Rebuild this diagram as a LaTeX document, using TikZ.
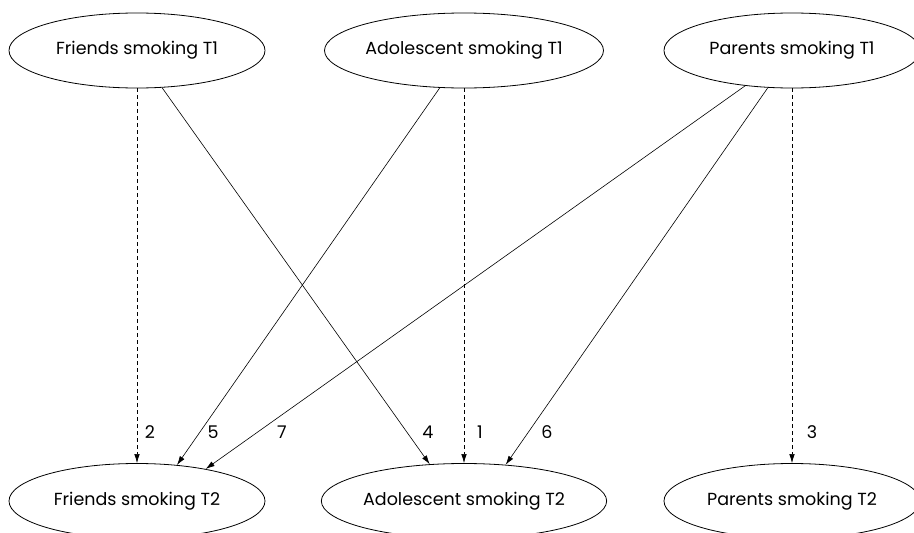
\documentclass[tikz,border=0pt]{standalone}
\usepackage{fontspec}
\setmainfont{Poppins}
\usetikzlibrary{shapes.geometric,arrows.meta}
\begin{document}
\begin{tikzpicture}[x=1pt,y=-1pt,
  var/.style={draw,ellipse,line width=0.8pt,minimum width=256pt,minimum height=75pt,inner sep=0pt,font=\fontsize{17.5}{20}\selectfont},
  path/.style={line width=0.6pt,-{Latex[length=9pt,width=5.5pt]}},
  dpath/.style={path,dash pattern=on 4pt off 3pt},
  lab/.style={font=\fontsize{17.5}{20}\selectfont,inner sep=0pt}]
\useasboundingbox (0,0) rectangle (914,533);
\node[var] (ft1) at (137,50.5) {Friends smoking T1};
\node[var] (at1) at (464,50.5) {Adolescent smoking T1};
\node[var] (pt1) at (792,50.5) {Parents smoking T1};
\node[var] (ft2) at (137,501) {Friends smoking T2};
\node[var] (at2) at (464,501) {Adolescent smoking T2};
\node[var] (pt2) at (792,501) {Parents smoking T2};
\draw[dpath] (ft1.south) -- (ft2.north);
\draw[dpath] (at1.south) -- (at2.north);
\draw[dpath] (pt1.south) -- (pt2.north);
\draw[path] (ft1.-56) -- (at2.133);
\draw[path] (at1.237) -- (ft2.42);
\draw[path] (pt1.217) -- (ft2.25);
\draw[path] (pt1.237) -- (at2.41);
\node[lab] (l2) at (150,432) {2};
\node[lab] (l5) at (213,432) {5};
\node[lab] (l7) at (282,432) {7};
\node[lab] (l4) at (428,432) {4};
\node[lab] (l1) at (480,432) {1};
\node[lab] (l6) at (547,432) {6};
\node[lab] (l3) at (812,432) {3};
\end{tikzpicture}
\end{document}
